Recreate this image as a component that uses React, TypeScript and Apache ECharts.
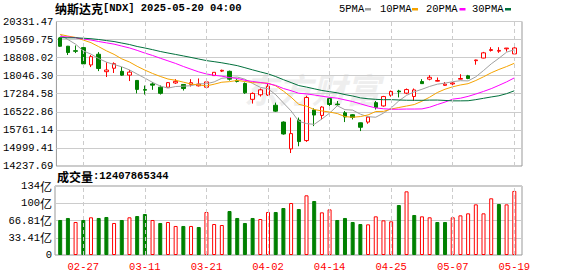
import React, { useEffect, useRef } from "react";
import * as echarts from "echarts";

const dates = ["02-24","02-25","02-26","02-27","02-28","03-03","03-04","03-05","03-06","03-07","03-10","03-11","03-12","03-13","03-14","03-17","03-18","03-19","03-20","03-21","03-24","03-25","03-26","03-27","03-28","03-31","04-01","04-02","04-03","04-04","04-07","04-08","04-09","04-10","04-11","04-14","04-15","04-16","04-17","04-21","04-22","04-23","04-24","04-25","04-28","04-29","04-30","05-01","05-02","05-05","05-06","05-07","05-08","05-09","05-12","05-13","05-14","05-15","05-16","05-19"];

const opens = [19640,19290,19100,19230,18500,18950,18215,18360,18230,18070,17846,17460,17700,17563,17560,17740,17676,17680,17620,17560,18050,18240,18230,17850,17719,17050,17240,17230,16800,16090,14960,16170,15310,16600,16370,17080,16850,16480,16400,16060,16090,16910,16770,17220,17400,17310,17170,17800,17900,17815,17640,17700,17900,18040,18680,18790,19110,19080,19180,18965];
const closes = [19287,19026,19075,18544,18847,18350,18285,18553,18069,18196,17468,17436,17648,17303,17754,17809,17504,17751,17692,17784,18189,18272,17899,17804,17323,17299,17450,17601,16551,15588,15603,15268,17125,16387,16724,16831,16823,16307,16286,15871,16300,16708,17166,17383,17366,17461,17446,17711,17978,17844,17690,17738,17928,17929,18708,19010,19147,19112,19211,19215];
const lows = [19260,18920,19000,18520,18410,18240,17990,18160,18040,17820,17300,17250,17450,17252,17540,17700,17420,17590,17590,17520,18040,18200,17840,17760,17280,16870,17167,17195,16520,15560,14784,15070,15255,15920,16200,16660,16770,16090,16200,15710,16020,16620,16740,17160,17130,17266,16985,17700,17850,17800,17620,17600,17890,17900,18510,18780,19064,19010,19064,18960];
const highs = [19680,19300,19320,19290,18920,19040,18610,18610,18413,18290,17860,17630,17775,17634,17780,17900,17690,17900,17930,17840,18200,18300,18260,17900,17760,17340,17506,17700,16910,16120,16280,16280,17200,16670,16760,17120,16980,16560,16430,16070,16340,16980,17195,17420,17450,17506,17506,17900,18070,17970,17780,17830,18110,18080,18720,19050,19248,19248,19215,19250];
// closes of the 29 sessions before the first candle (needed for the moving averages)
const priorCloses = [19162,19088,19044,19511,19338,19630,19757,20009,20054,19954,19342,19734,19632,19682,19627,19392,19654,19692,19792,19523,19714,19644,19650,19946,20027,20041,20056,19962,19524];
// volume, in 亿
const volumes = [67.8,71.7,63.9,67.8,73.0,71.7,73.6,62.0,67.8,73.0,75.5,79.4,67.8,62.0,63.9,56.2,56.2,56.2,54.2,83.3,60.0,58.1,85.2,71.7,62.0,71.7,69.7,83.3,83.3,91.0,100.7,89.1,115.6,104.6,82.6,88.4,67.8,71.7,63.9,60.0,59.4,74.9,67.1,65.2,96.8,123.3,77.5,74.9,73.0,63.9,63.9,73.0,76.8,80.7,98.1,80.7,109.8,98.8,98.1,124.08];

const priceTickLabels = ["14237.69","14999.41","15761.14","16522.86","17284.58","18046.30","18808.02","19569.75","20331.47"];
const volTickLabels = ["0","33.41","66.81","100","134"];
const priceMin = 14237.69;
const priceMax = 20331.47;
const volMax = 133.64;
const titleName = "纳斯达克";
const titleRest = "[NDX] 2025-05-20 04:00";
const volTitleName = "成交量";
const volTitleRest = ":12407865344";
const maPeriods = [5, 10, 20, 30];
const maNames = ["5PMA", "10PMA", "20PMA", "30PMA"];
const maColors = ["#a0a0a0", "#f5a300", "#ff00ff", "#00703c"];

const RED = "#ff0000";
const GREEN = "#008000";
const MONO = "'Liberation Mono', monospace";
const CJK = "'Noto Sans CJK SC', sans-serif";
const MONO_SIZE = 10.5;

function movingAverage(n: number): number[] {
  const all = priorCloses.concat(closes);
  const off = priorCloses.length;
  return closes.map((_, i) => {
    let s = 0;
    for (let k = off + i - n + 1; k <= off + i; k++) s += all[k];
    return +(s / n).toFixed(2);
  });
}

export default function App() {
  const ref = useRef<HTMLDivElement>(null);
  useEffect(() => {
    if (!ref.current) return;
    const chart = echarts.init(ref.current, undefined, { renderer: "svg" });
    const candleData = dates.map((_, i) => [opens[i], closes[i], lows[i], highs[i]]);
    const volData = volumes.map((v, i) => {
      const prev = i === 0 ? priorCloses[priorCloses.length - 1] : closes[i - 1];
      const up = closes[i] >= prev;
      return {
        value: v,
        itemStyle: up
          ? { color: "#ffffff", borderColor: RED, borderWidth: 1 }
          : { color: GREEN, borderColor: GREEN, borderWidth: 1 },
      };
    });
    const labelIdx = dates.map((_, i) => i).filter((i) => i >= 3 && (i - 3) % 8 === 0);
    const vLines = {
      silent: true,
      symbol: ["none", "none"],
      label: { show: false },
      lineStyle: { color: "#cccccc", type: [4, 3], width: 1 },
      data: labelIdx.map((i) => ({ xAxis: dates[i] })),
    };
    const legendX = [339, 380, 426, 472];
    const swatchX = [365, 412, 459.5, 505];
    const graphic: any[] = [
      {
        type: "text",
        left: 244,
        top: 71,
        z: 0,
        silent: true,
        style: {
          text: "东方财富",
          fontSize: 34,
          fontFamily: CJK,
          fontStyle: "italic",
          fontWeight: "bold",
          fill: "#eeeeee",
        },
      },
    ];
    maNames.forEach((n, k) => {
      graphic.push({
        type: "text",
        x: legendX[k],
        y: 9,
        style: { text: n, fontFamily: MONO, fontSize: MONO_SIZE, fill: "#000", textVerticalAlign: "middle" },
      });
      graphic.push({
        type: "rect",
        shape: { x: swatchX[k], y: 8, width: 6, height: 2.5 },
        style: { fill: maColors[k] },
      });
    });
    const richTitle = {
      a: { fontFamily: CJK, fontSize: 12, color: "#000", lineHeight: 14 },
      b: { fontFamily: MONO, fontSize: MONO_SIZE, color: "#000", lineHeight: 14 },
    };
    const option: any = {
      animation: false,
      backgroundColor: "#ffffff",
      title: [
        {
          text: `{a|${titleName}}{b|${titleRest}}`,
          left: 55,
          top: 1,
          padding: 0,
          textStyle: { rich: richTitle },
        },
        {
          text: `{a|${volTitleName}}{b|${volTitleRest}}`,
          left: 57,
          top: 169,
          padding: 0,
          textStyle: { rich: richTitle },
        },
      ],
      graphic,
      grid: [
        { left: 56.35, top: 21.5, width: 461.8, height: 144.5 },
        { left: 56.35, top: 186, width: 461.8, height: 69 },
        { left: 55, top: 21.5, width: 467, height: 144.5, show: true, borderColor: "#999999", borderWidth: 1, backgroundColor: "transparent" },
        { left: 55, top: 186, width: 467, height: 69, show: true, borderColor: "#999999", borderWidth: 1, backgroundColor: "transparent" },
      ],
      xAxis: [
        { type: "category", gridIndex: 0, data: dates, boundaryGap: true, axisLine: { show: false }, axisTick: { show: false }, axisLabel: { show: false }, splitLine: { show: false } },
        {
          type: "category", gridIndex: 1, data: dates, boundaryGap: true,
          axisLine: { show: false }, axisTick: { show: false }, splitLine: { show: false },
          axisLabel: {
            show: true,
            interval: (i: number) => i >= 3 && (i - 3) % 8 === 0,
            color: RED, fontFamily: MONO, fontSize: MONO_SIZE, margin: 6,
          },
        },
        { type: "value", gridIndex: 2, min: 0, max: 1, show: false },
        { type: "value", gridIndex: 3, min: 0, max: 1, show: false },
      ],
      yAxis: [
        { type: "value", gridIndex: 0, min: priceMin, max: priceMax, show: false },
        { type: "value", gridIndex: 1, min: 0, max: volMax, show: false },
        {
          type: "value", gridIndex: 2, min: priceMin, max: priceMax, interval: (priceMax - priceMin) / 8,
          axisLine: { show: false }, axisTick: { show: false },
          splitLine: { show: true, lineStyle: { color: "#cccccc", width: 1 } },
          axisLabel: {
            margin: 3, color: "#000", fontFamily: MONO, fontSize: MONO_SIZE,
            formatter: (_v: number, i: number) => priceTickLabels[i] ?? "",
          },
        },
        {
          type: "value", gridIndex: 3, min: 0, max: volMax, interval: volMax / 4,
          axisLine: { show: false }, axisTick: { show: false },
          splitLine: { show: true, lineStyle: { color: "#cccccc", width: 1 } },
          axisLabel: {
            margin: 3,
            formatter: (_v: number, i: number) =>
              i === 0 ? `{n|${volTickLabels[0]}}` : `{n|${volTickLabels[i] ?? ""}}{c|亿}`,
            rich: {
              n: { fontFamily: MONO, fontSize: MONO_SIZE, color: "#000" },
              c: { fontFamily: CJK, fontSize: 12, color: "#000" },
            },
          },
        },
      ],
      series: [
        {
          type: "candlestick",
          xAxisIndex: 0,
          yAxisIndex: 0,
          data: candleData,
          barWidth: 4,
          itemStyle: { color: "#ffffff", color0: GREEN, borderColor: RED, borderColor0: GREEN, borderWidth: 1 },
          markLine: vLines,
          z: 2,
        },
        ...maPeriods.map((p, k) => ({
          type: "line",
          name: maNames[k],
          xAxisIndex: 0,
          yAxisIndex: 0,
          data: movingAverage(p),
          showSymbol: false,
          symbol: "none",
          lineStyle: { color: maColors[k], width: 1 },
          z: 3,
        })),
        {
          type: "bar",
          xAxisIndex: 1,
          yAxisIndex: 1,
          data: volData,
          barWidth: 4,
          markLine: vLines,
        },
      ],
    };
    chart.setOption(option);
    return () => chart.dispose();
  }, []);
  return (
    <div
      ref={ref}
      style={{ position: "fixed", left: 0, top: 0, width: 578, height: 276, background: "#fff" }}
    />
  );
}
